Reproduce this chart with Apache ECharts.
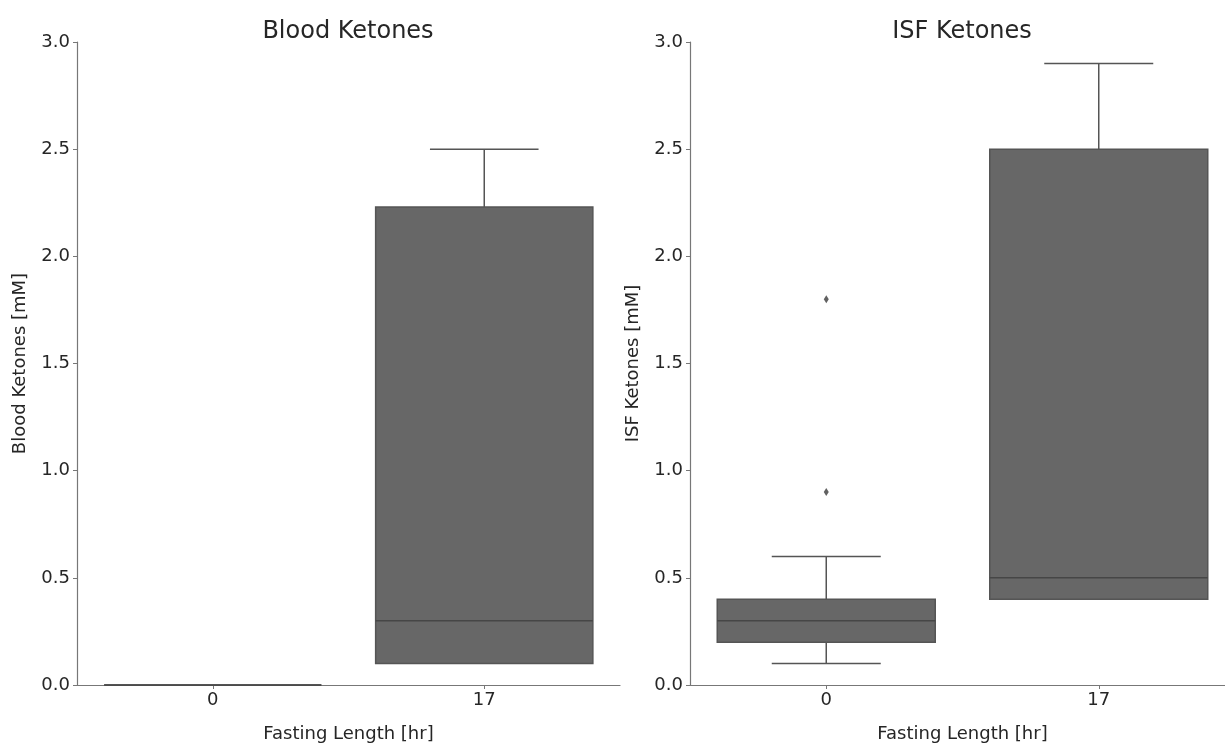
<!DOCTYPE html>
<html>
<head>
<meta charset="utf-8">
<script src="https://cdn.jsdelivr.net/npm/echarts@6/dist/echarts.min.js"></script>
<style>
html,body{margin:0;padding:0;background:#fff;overflow:hidden;width:1225px;height:743px;}
#chart{width:1240px;height:743px;}
</style>
</head>
<body>
<div id="chart"></div>
<script>
// Data
const categories = ['0', '17'];
// [min, Q1, median, Q3, max] per category
const bloodBoxes = [
  [0.0, 0.0, 0.0, 0.0, 0.0],
  [0.1, 0.1, 0.3, 2.23, 2.5]
];
const isfBoxes = [
  [0.1, 0.2, 0.3, 0.4, 0.6],
  [0.4, 0.4, 0.5, 2.5, 2.9]
];
const isfOutliers = [
  ['0', 0.9],
  ['0', 1.8]
];
const yTicks = [0, 0.5, 1.0, 1.5, 2.0, 2.5, 3.0];

const FONT = 'DejaVu Sans';
const BOX_FILL = '#676767';
const LINE = '#555555';
const MED = '#464646';

function boxRender(params, api) {
  const x = api.value(0);
  const mn = api.value(1), q1 = api.value(2), md = api.value(3), q3 = api.value(4), mx = api.value(5);
  const band = api.size([1, 0])[0];
  const w = band * 0.8;
  const cw = w * 0.5;
  const pMin = api.coord([x, mn]);
  const pQ1 = api.coord([x, q1]);
  const pMd = api.coord([x, md]);
  const pQ3 = api.coord([x, q3]);
  const pMx = api.coord([x, mx]);
  const cx = pMd[0];
  const st = {stroke: LINE, lineWidth: 1.5};
  const children = [];
  if (mx > q3) {
    children.push({type: 'line', shape: {x1: cx, y1: pQ3[1], x2: cx, y2: pMx[1]}, style: st});
    children.push({type: 'line', shape: {x1: cx - cw / 2, y1: pMx[1], x2: cx + cw / 2, y2: pMx[1]}, style: st});
  }
  if (mn < q1) {
    children.push({type: 'line', shape: {x1: cx, y1: pQ1[1], x2: cx, y2: pMin[1]}, style: st});
    children.push({type: 'line', shape: {x1: cx - cw / 2, y1: pMin[1], x2: cx + cw / 2, y2: pMin[1]}, style: st});
  }
  children.push({type: 'rect', shape: {x: cx - w / 2, y: pQ3[1], width: w, height: pQ1[1] - pQ3[1]},
    style: {fill: BOX_FILL, stroke: LINE, lineWidth: 1.5}});
  children.push({type: 'line', shape: {x1: cx - w / 2, y1: pMd[1], x2: cx + w / 2, y2: pMd[1]},
    style: {stroke: MED, lineWidth: 1.5}});
  return {type: 'group', children: children};
}

function toItems(boxes) {
  return boxes.map((b, i) => [i].concat(b));
}

const yAxisCommon = {
  type: 'value', min: 0, max: 3, interval: 0.5,
  splitLine: {show: false},
  axisLine: {show: true, lineStyle: {color: '#777', width: 1.2}},
  axisTick: {show: true, length: 4, lineStyle: {color: '#777'}},
  axisLabel: {color: '#262626', fontFamily: FONT, fontSize: 18, margin: 7,
    formatter: v => v.toFixed(1)},
  nameLocation: 'middle', nameGap: 48,
  nameTextStyle: {color: '#262626', fontFamily: FONT, fontSize: 18}
};
const xAxisCommon = {
  type: 'category', data: categories, boundaryGap: true,
  axisLine: {show: true, lineStyle: {color: '#777', width: 1.2}},
  axisTick: {show: true, alignWithLabel: true, length: 4, lineStyle: {color: '#777'}},
  axisLabel: {color: '#262626', fontFamily: FONT, fontSize: 18, margin: 6},
  name: 'Fasting Length [hr]', nameLocation: 'middle', nameGap: 40,
  nameTextStyle: {color: '#262626', fontFamily: FONT, fontSize: 18}
};

const chart = echarts.init(document.getElementById('chart'), null, {renderer: 'canvas'});
chart.setOption({
  backgroundColor: '#fff',
  animation: false,
  title: [
    {text: 'Blood Ketones', left: 343, top: 15, textAlign: 'center',
      textStyle: {fontFamily: FONT, fontSize: 24, fontWeight: 'normal', color: '#262626'}},
    {text: 'ISF Ketones', left: 957, top: 15, textAlign: 'center',
      textStyle: {fontFamily: FONT, fontSize: 24, fontWeight: 'normal', color: '#262626'}}
  ],
  grid: [
    {left: 77, top: 42, width: 543, height: 643, containLabel: false, outerBoundsMode: 'none'},
    {left: 690, top: 42, width: 545, height: 643, containLabel: false, outerBoundsMode: 'none'}
  ],
  xAxis: [
    Object.assign({}, xAxisCommon, {gridIndex: 0}),
    Object.assign({}, xAxisCommon, {gridIndex: 1})
  ],
  yAxis: [
    Object.assign({}, yAxisCommon, {gridIndex: 0, name: 'Blood Ketones [mM]'}),
    Object.assign({}, yAxisCommon, {gridIndex: 1, name: 'ISF Ketones [mM]'})
  ],
  series: [
    {type: 'custom', xAxisIndex: 0, yAxisIndex: 0, renderItem: boxRender,
      encode: {x: 0, y: [1, 2, 3, 4, 5]}, data: toItems(bloodBoxes), clip: false},
    {type: 'custom', xAxisIndex: 1, yAxisIndex: 1, renderItem: boxRender,
      encode: {x: 0, y: [1, 2, 3, 4, 5]}, data: toItems(isfBoxes), clip: false},
    {type: 'scatter', xAxisIndex: 1, yAxisIndex: 1, data: isfOutliers,
      symbol: 'diamond', symbolSize: [5, 8], itemStyle: {color: '#3a3a3a'}}
  ]
});
</script>
</body>
</html>
